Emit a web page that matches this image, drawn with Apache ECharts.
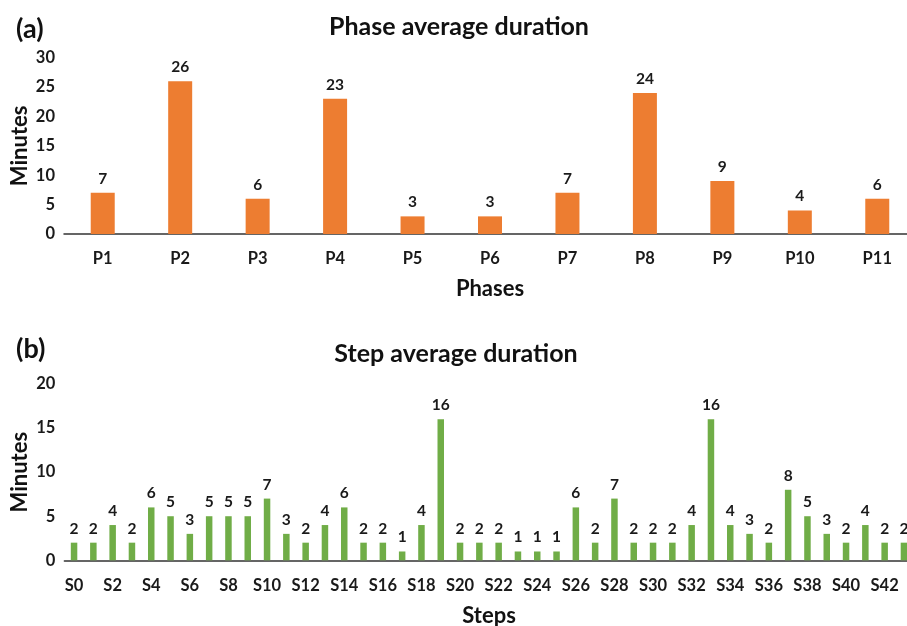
<!DOCTYPE html>
<html><head><meta charset="utf-8">
<script src="https://cdn.jsdelivr.net/npm/echarts@6/dist/echarts.min.js"></script>
<style>html,body{margin:0;padding:0;background:#fff}#c{width:907px;height:626px}</style>
</head><body><div id="c"></div>
<script>
const phases = ['P1','P2','P3','P4','P5','P6','P7','P8','P9','P10','P11'];
const phaseValues = [7,26,6,23,3,3,7,24,9,4,6];
const steps = ['S0','S1','S2','S3','S4','S5','S6','S7','S8','S9','S10','S11','S12','S13','S14','S15','S16','S17','S18','S19','S20','S21','S22','S23','S24','S25','S26','S27','S28','S29','S30','S31','S32','S33','S34','S35','S36','S37','S38','S39','S40','S41','S42','S43'];
const stepValues = [2,2,4,2,6,5,3,5,5,5,7,3,2,4,6,2,2,1,4,16,2,2,2,1,1,1,6,2,7,2,2,2,4,16,4,3,2,8,5,3,2,4,2,2];

const F = 'Lato, "Open Sans", sans-serif';
const chart = echarts.init(document.getElementById('c'));
const axisLine = {lineStyle:{color:'#333', width:1.5}};
const tickLbl = {color:'#1a1a1a', fontFamily:F, fontWeight:'bold', fontSize:16.5};
const nameTs = {color:'#111', fontFamily:F, fontWeight:'bold', fontSize:22};
const valLbl = {show:true, position:'top', distance:6, color:'#1a1a1a', fontFamily:F, fontWeight:'bold', fontSize:15.5};
chart.setOption({
  animation:false,
  title:[
    {text:'Phase average duration', left:454, top:9, textAlign:'center', textStyle:{fontFamily:F, fontWeight:'bold', fontSize:25, color:'#111'}},
    {text:'(a)', left:11, top:11, textStyle:{fontFamily:F, fontWeight:'bold', fontSize:27, color:'#111'}},
    {text:'Step average duration', left:451, top:336, textAlign:'center', textStyle:{fontFamily:F, fontWeight:'bold', fontSize:25, color:'#111'}},
    {text:'(b)', left:11, top:331, textStyle:{fontFamily:F, fontWeight:'bold', fontSize:27, color:'#111'}}
  ],
  grid:[
    {left:64, width:852, top:57.7, height:176.3, outerBoundsMode:'none', containLabel:false},
    {left:64.4, width:849.2, top:384, height:176.3, outerBoundsMode:'none', containLabel:false}
  ],
  xAxis:[
    {type:'category', gridIndex:0, data:phases, axisLine:axisLine, axisTick:{show:false},
     axisLabel:Object.assign({margin:16, interval:0}, tickLbl),
     name:'Phases', nameLocation:'middle', nameGap:44, nameTextStyle:nameTs},
    {type:'category', gridIndex:1, data:steps, axisLine:axisLine, axisTick:{show:false},
     axisLabel:Object.assign({margin:17, interval:1}, tickLbl),
     name:'Steps', nameLocation:'middle', nameGap:45, nameTextStyle:nameTs}
  ],
  yAxis:[
    {type:'value', gridIndex:0, min:0, max:30, interval:5, splitLine:{show:false},
     axisLine:{show:false}, axisTick:{show:false}, axisLabel:Object.assign({margin:9}, tickLbl),
     name:'Minutes', nameLocation:'middle', nameGap:33, nameMoveOverlap:false, nameTextStyle:nameTs},
    {type:'value', gridIndex:1, min:0, max:20, interval:5, splitLine:{show:false},
     axisLine:{show:false}, axisTick:{show:false}, axisLabel:Object.assign({margin:9}, tickLbl),
     name:'Minutes', nameLocation:'middle', nameGap:33, nameMoveOverlap:false, nameTextStyle:nameTs}
  ],
  series:[
    {type:'bar', xAxisIndex:0, yAxisIndex:0, data:phaseValues, barWidth:24,
     itemStyle:{color:'#ED7D31'}, label:valLbl},
    {type:'bar', xAxisIndex:1, yAxisIndex:1, data:stepValues, barWidth:6.5,
     itemStyle:{color:'#70AD47'}, label:valLbl}
  ]
});
</script></body></html>
